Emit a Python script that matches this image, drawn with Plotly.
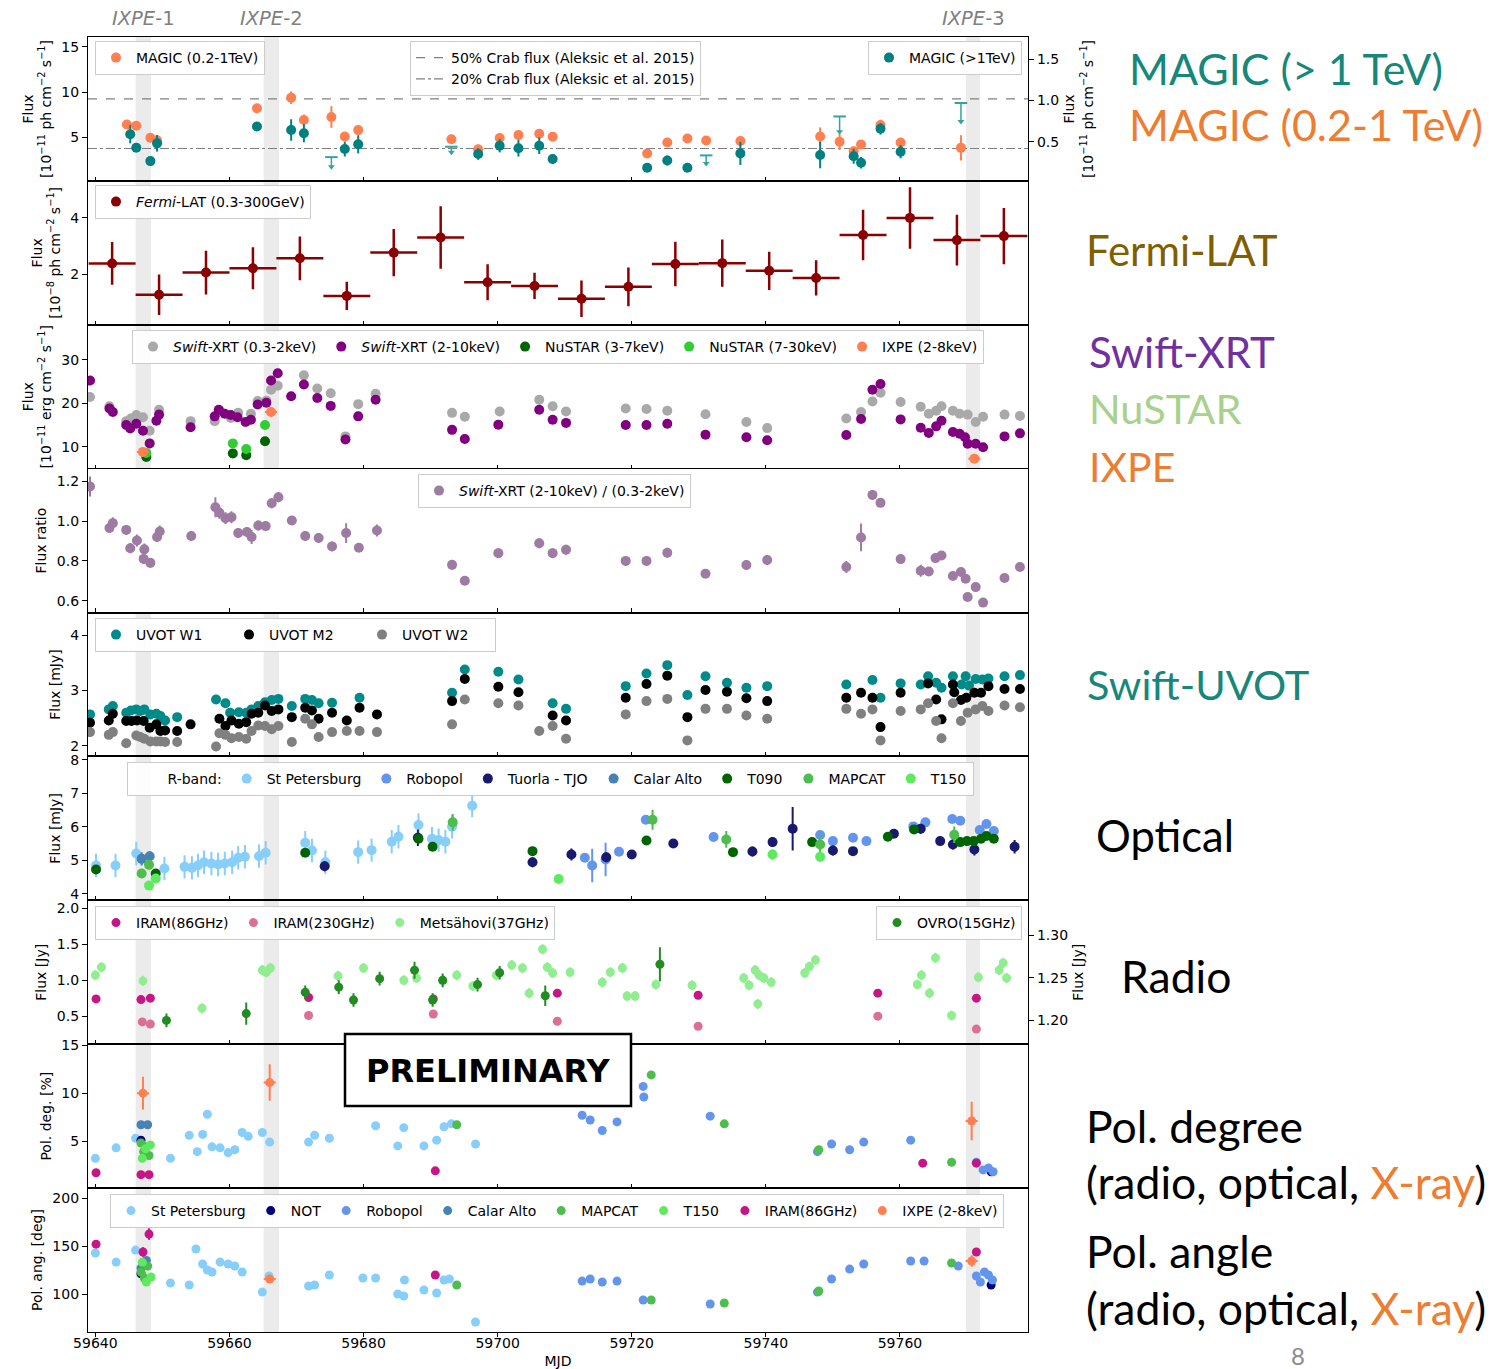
import plotly.graph_objects as go
from plotly.subplots import make_subplots

W, H = 1494, 1369
PL, PR, PT, PB = 88, 1028, 37, 1332
X_MIN, X_MAX = 59638.9, 59779.1
XTICKS = [59640, 59660, 59680, 59700, 59720, 59740, 59760]
XTICK_LABELS = ["59640", "59660", "59680", "59700", "59720", "59740", "59760"]

IXPE_WINDOWS = [(59646.0, 59648.3), (59665.1, 59667.4), (59769.85, 59771.95)]
IXPE_LABELS = ["<i>IXPE</i>-1", "<i>IXPE</i>-2", "<i>IXPE</i>-3"]

# ---------------- MAGIC ----------------
magic_lo_x = [59644.7, 59646.1, 59648.2, 59649.2, 59664.1, 59669.2, 59671.1, 59675.2, 59677.2, 59679.2,
              59693.1, 59697.1, 59700.3, 59703.1, 59706.2, 59708.2, 59722.3, 59725.3, 59728.3, 59731.1,
              59736.2, 59748.1, 59751.0, 59753.1, 59754.2, 59757.1, 59760.1, 59769.1]
magic_lo_y = [6.44, 6.3, 4.96, 4.7, 8.22, 9.4, 6.93, 7.26, 5.11, 5.81,
              4.81, 3.7, 4.93, 5.26, 5.4, 5.07, 3.22, 4.44, 4.89, 4.67,
              4.6, 5.11, 4.52, 3.48, 4.22, 6.37, 4.44, 3.85]
magic_lo_e = [0.5, 0.35, 0.35, 0.5, 0.4, 0.7, 0.6, 1.2, 0.4, 0.5,
              0.5, 0.4, 0.45, 0.5, 0.5, 0.45, 0.45, 0.4, 0.45, 0.4,
              0.5, 1.0, 0.9, 0.5, 0.5, 0.6, 0.5, 1.4]
magic_hi_x = [59645.2, 59646.1, 59648.2, 59649.2, 59664.1, 59669.2, 59671.1, 59677.2, 59679.2, 59697.1,
              59700.3, 59703.1, 59706.2, 59708.2, 59722.3, 59725.3, 59728.3, 59736.2, 59748.1, 59753.1,
              59754.2, 59757.1, 59760.1]
magic_hi_y = [0.589, 0.426, 0.264, 0.479, 0.683, 0.641, 0.601, 0.410, 0.467, 0.349,
              0.450, 0.419, 0.450, 0.289, 0.183, 0.272, 0.183, 0.357, 0.337, 0.322,
              0.244, 0.655, 0.378]
magic_hi_e = [0.11, 0.05, 0.03, 0.1, 0.05, 0.13, 0.11, 0.09, 0.11, 0.07,
              0.08, 0.1, 0.1, 0.06, 0.05, 0.06, 0.04, 0.14, 0.16, 0.09,
              0.07, 0.07, 0.08]
magic_ul_x = [59675.2, 59693.1, 59731.1, 59751.0, 59769.1]
magic_ul_top = [0.312, 0.438, 0.333, 0.805, 0.968]
magic_ul_end = [0.195, 0.37, 0.234, 0.619, 0.744]
crab50 = 9.27
crab20 = 3.78

# ---------------- Fermi ----------------
fermi_x = [59642.5, 59649.5, 59656.5, 59663.5, 59670.5, 59677.5, 59684.5, 59691.5, 59698.5, 59705.5,
           59712.5, 59719.5, 59726.5, 59733.5, 59740.5, 59747.5, 59754.5, 59761.5, 59768.5, 59775.5]
fermi_y = [2.39, 1.29, 2.07, 2.22, 2.57, 1.25, 2.77, 3.3, 1.73, 1.6,
           1.15, 1.57, 2.37, 2.4, 2.13, 1.88, 3.39, 3.99, 3.21, 3.35]
fermi_ye = [0.75, 0.71, 0.77, 0.74, 0.77, 0.5, 0.83, 1.1, 0.63, 0.46,
            0.64, 0.68, 0.78, 0.83, 0.67, 0.62, 0.89, 1.08, 0.89, 0.99]
fermi_half_bin = 3.5

# ---------------- X-ray ----------------
xrt_hard_x = [59639.2, 59642.1, 59642.6, 59644.6, 59645.2, 59646.1, 59647.1, 59648.1, 59649.1, 59649.5,
              59654.2, 59657.8, 59658.4, 59659.3, 59660.2, 59661.2, 59662.4, 59663.2, 59664.2, 59665.5,
              59666.2, 59667.2, 59669.2, 59671.1, 59673.1, 59675.1, 59677.3, 59679.2, 59681.8, 59693.2,
              59695.1, 59700.1, 59706.2, 59708.2, 59710.2, 59719.1, 59722.2, 59725.3, 59731.0, 59737.1,
              59740.2, 59752.0, 59754.2, 59755.9, 59757.1, 59760.1, 59763.1, 59764.3, 59765.4, 59766.2,
              59767.9, 59768.9, 59769.7, 59770.1, 59771.3, 59772.4, 59775.6, 59777.9]
xrt_hard_y = [25.2, 18.8, 18.0, 15.0, 14.2, 15.3, 13.7, 10.8, 16.0, 17.4,
              14.5, 17.0, 18.5, 17.6, 17.3, 16.8, 15.7, 16.2, 19.7, 20.1,
              25.2, 26.9, 21.6, 24.3, 21.2, 19.4, 11.7, 17.0, 20.8, 13.9,
              11.8, 15.1, 18.5, 16.2, 15.5, 15.0, 15.0, 15.3, 12.8, 12.2,
              11.5, 12.7, 16.4, 23.1, 24.4, 16.3, 14.4, 13.2, 14.7, 16.0,
              13.4, 13.0, 12.2, 10.7, 10.7, 9.9, 12.4, 13.1]
xrt_soft_x = [59639.2, 59642.1, 59644.6, 59645.3, 59646.1, 59647.1, 59648.1, 59649.5, 59654.2, 59657.8,
              59658.6, 59660.2, 59661.3, 59663.2, 59664.2, 59665.5, 59666.2, 59667.2, 59671.1, 59673.1,
              59675.1, 59677.3, 59679.2, 59681.8, 59693.2, 59695.1, 59700.3, 59706.2, 59708.2, 59710.2,
              59719.1, 59722.2, 59725.3, 59731.0, 59737.1, 59740.2, 59752.0, 59754.2, 59755.9, 59757.1,
              59760.1, 59763.1, 59764.3, 59765.4, 59766.2, 59767.9, 59768.9, 59770.1, 59771.3, 59772.4,
              59775.6, 59777.9]
xrt_soft_y = [21.45, 19.3, 15.9, 16.5, 17.3, 16.8, 13.7, 18.5, 15.9, 15.9,
              18.2, 16.6, 17.8, 17.6, 20.5, 20.6, 23.1, 24.0, 26.4, 23.4,
              22.3, 12.4, 19.8, 22.2, 17.8, 16.9, 18.1, 20.8, 19.3, 18.1,
              18.8, 18.7, 18.3, 17.5, 15.7, 14.3, 16.5, 18.0, 20.4, 22.4,
              20.3, 19.2, 17.6, 18.3, 19.3, 18.3, 17.6, 17.4, 15.7, 16.9,
              17.4, 17.1]
nustar_x = [59647.6, 59660.5, 59662.5, 59665.3]
nustar_lo_y = [7.7, 8.5, 8.1, 11.3]
nustar_hi_y = [8.6, 10.8, 9.5, 15.0]
ixpe_flux_x = [59647.1, 59666.2, 59771.1]
ixpe_flux_y = [8.85, 18.0, 7.3]
ixpe_flux_xe = [0.9, 0.9, 0.9]

# ---------------- hardness ratio ----------------
ratio_x = [59639.2, 59642.1, 59642.6, 59644.6, 59645.2, 59646.2, 59647.2, 59647.3, 59648.2, 59649.2,
           59649.6, 59654.3, 59657.9, 59658.5, 59659.4, 59660.3, 59661.3, 59662.6, 59663.3, 59664.3,
           59665.4, 59666.3, 59667.3, 59669.3, 59671.3, 59673.3, 59675.3, 59677.4, 59679.3, 59682.0,
           59693.2, 59695.1, 59700.1, 59706.2, 59708.2, 59710.2, 59719.1, 59722.2, 59725.3, 59731.0,
           59737.1, 59740.2, 59752.0, 59754.2, 59755.9, 59757.1, 59760.1, 59763.1, 59764.3, 59765.3,
           59766.2, 59767.9, 59769.1, 59769.8, 59770.1, 59771.3, 59772.4, 59775.6, 59777.9]
ratio_y = [1.174, 0.965, 0.99, 0.956, 0.864, 0.903, 0.81, 0.858, 0.79, 0.92,
           0.948, 0.925, 1.07, 1.042, 1.015, 1.02, 0.94, 0.945, 0.92, 0.978,
           0.975, 1.09, 1.12, 1.003, 0.925, 0.915, 0.873, 0.94, 0.866, 0.953,
           0.78, 0.70, 0.839, 0.889, 0.839, 0.856, 0.80, 0.80, 0.841, 0.735,
           0.779, 0.804, 0.769, 0.918, 1.132, 1.092, 0.809, 0.75, 0.747, 0.814,
           0.827, 0.724, 0.744, 0.71, 0.618, 0.668, 0.59, 0.714, 0.769]
ratio_e = [0.05, 0.025, 0.03, 0.025, 0.025, 0.03, 0.025, 0.03, 0.025, 0.025,
           0.03, 0.025, 0.05, 0.03, 0.03, 0.03, 0.025, 0.025, 0.035, 0.025,
           0.025, 0.025, 0.025, 0.02, 0.025, 0.025, 0.025, 0.05, 0.02, 0.03,
           0.025, 0.02, 0.025, 0.025, 0.025, 0.025, 0.025, 0.025, 0.025, 0.02,
           0.025, 0.025, 0.03, 0.07, 0.025, 0.02, 0.02, 0.03, 0.02, 0.02,
           0.02, 0.02, 0.02, 0.02, 0.02, 0.02, 0.02, 0.02, 0.02]

# ---------------- UVOT ----------------
w1_x = [59639.2, 59642.0, 59642.6, 59644.6, 59645.3, 59646.1, 59646.7, 59647.3, 59648.2, 59649.1,
        59649.7, 59650.4, 59652.2, 59658.0, 59659.4, 59660.1, 59661.4, 59662.5, 59663.3, 59664.3,
        59665.3, 59666.3, 59667.3, 59669.3, 59671.3, 59672.3, 59673.3, 59675.3, 59679.4, 59693.2,
        59695.1, 59700.1, 59703.1, 59708.2, 59710.2, 59719.1, 59722.2, 59725.3, 59728.3, 59731.0,
        59734.2, 59737.1, 59740.2, 59752.0, 59755.9, 59757.1, 59760.1, 59763.1, 59764.2, 59765.4,
        59766.2, 59767.9, 59769.2, 59769.8, 59770.3, 59771.3, 59772.3, 59773.2, 59775.6, 59777.9]
w1_y = [2.57, 2.66, 2.72, 2.6, 2.64, 2.66, 2.63, 2.66, 2.57, 2.58,
        2.54, 2.46, 2.52, 2.84, 2.77, 2.6, 2.61, 2.6, 2.66, 2.72,
        2.79, 2.83, 2.85, 2.72, 2.85, 2.83, 2.77, 2.78, 2.87, 2.96,
        3.38, 3.34, 3.2, 2.77, 2.67, 3.08, 3.31, 3.46, 2.92, 3.26,
        3.14, 3.05, 3.08, 3.11, 3.19, 2.87, 3.13, 3.11, 3.26, 3.14,
        3.05, 3.26, 3.11, 3.26, 3.09, 3.21, 3.2, 3.22, 3.26, 3.28]
m2_x = [59639.2, 59642.0, 59642.6, 59644.6, 59645.4, 59646.2, 59647.2, 59648.1, 59649.1, 59649.7,
        59650.4, 59652.2, 59654.2, 59658.5, 59659.4, 59660.3, 59661.4, 59662.5, 59663.3, 59664.3,
        59665.3, 59666.3, 59667.3, 59669.3, 59671.3, 59672.3, 59673.3, 59675.3, 59677.5, 59679.4,
        59682.0, 59693.2, 59695.1, 59700.1, 59703.1, 59708.2, 59710.2, 59719.1, 59722.2, 59725.3,
        59728.3, 59731.0, 59734.2, 59737.1, 59740.2, 59752.0, 59754.2, 59755.9, 59757.1, 59760.1,
        59764.2, 59765.4, 59766.2, 59767.9, 59768.1, 59769.1, 59769.9, 59771.1, 59772.1, 59773.2,
        59775.6, 59777.9]
m2_y = [2.42, 2.46, 2.58, 2.45, 2.45, 2.46, 2.45, 2.33, 2.39, 2.27,
        2.28, 2.27, 2.39, 2.49, 2.36, 2.46, 2.4, 2.43, 2.58, 2.6,
        2.73, 2.63, 2.66, 2.52, 2.69, 2.64, 2.49, 2.6, 2.46, 2.69,
        2.57, 2.81, 3.21, 3.07, 2.97, 2.55, 2.46, 2.87, 3.12, 3.27,
        2.52, 3.01, 2.98, 2.86, 2.81, 2.87, 2.96, 2.87, 2.34, 2.96,
        3.13, 2.84, 2.48, 3.11, 2.97, 2.83, 2.87, 2.96, 2.96, 3.08,
        3.03, 3.03]
w2_x = [59639.2, 59642.0, 59642.6, 59644.6, 59646.1, 59646.7, 59647.3, 59648.2, 59649.1, 59649.7,
        59650.4, 59652.2, 59658.0, 59658.5, 59659.4, 59660.3, 59661.4, 59662.5, 59663.3, 59664.3,
        59665.3, 59666.3, 59667.3, 59669.3, 59671.3, 59672.3, 59673.3, 59675.3, 59677.5, 59679.4,
        59682.0, 59693.2, 59695.1, 59700.1, 59703.1, 59706.2, 59708.2, 59710.2, 59719.1, 59722.2,
        59725.3, 59728.3, 59731.0, 59734.2, 59737.1, 59740.2, 59752.0, 59754.2, 59755.9, 59757.1,
        59760.1, 59763.1, 59764.2, 59765.4, 59766.2, 59767.9, 59769.1, 59770.1, 59771.3, 59772.3,
        59773.2, 59775.6, 59777.9]
w2_y = [2.25, 2.2, 2.25, 2.05, 2.19, 2.16, 2.13, 2.08, 2.08, 2.08,
        2.07, 2.07, 1.99, 2.23, 2.2, 2.14, 2.16, 2.13, 2.27, 2.37,
        2.36, 2.3, 2.36, 2.07, 2.49, 2.39, 2.16, 2.25, 2.27, 2.27,
        2.25, 2.39, 2.84, 2.77, 2.73, 2.27, 2.36, 2.13, 2.57, 2.81,
        2.85, 2.1, 2.67, 2.67, 2.55, 2.49, 2.67, 2.58, 2.66, 2.1,
        2.63, 2.66, 2.77, 2.45, 2.14, 2.77, 2.45, 2.6, 2.66, 2.72,
        2.63, 2.73, 2.7]

# ---------------- Optical R-band ----------------
stp_x = [59640.1, 59643.0, 59646.1, 59650.3, 59653.3, 59654.4, 59655.3, 59656.2, 59657.3, 59658.3,
         59659.3, 59660.4, 59661.3, 59662.3, 59664.4, 59665.4, 59671.3, 59672.3, 59674.3, 59679.2,
         59681.2, 59684.2, 59685.2, 59688.2, 59690.2, 59691.2, 59692.2, 59693.2, 59696.2]
stp_y = [4.84, 4.84, 5.2, 4.75, 4.8, 4.77, 4.84, 4.94, 4.9, 4.87,
         4.9, 4.94, 5.07, 5.1, 5.12, 5.22, 5.52, 5.29, 4.94, 5.24,
         5.3, 5.55, 5.7, 6.05, 5.64, 5.6, 5.55, 6.0, 6.63]
robo_x = [59713.0, 59714.1, 59716.1, 59718.1, 59722.1, 59732.2, 59748.1, 59750.0, 59753.0, 59755.0,
          59762.0, 59763.8, 59767.8, 59769.0, 59771.9, 59772.9, 59774.0]
robo_y = [5.07, 4.84, 5.02, 5.25, 6.21, 5.69, 5.75, 5.57, 5.67, 5.57,
          6.01, 6.13, 6.23, 6.18, 5.9, 6.08, 5.87]
robo_e = [0.12, 0.5, 0.5, 0.12, 0.1, 0.1, 0.12, 0.1, 0.12, 0.12,
          0.1, 0.1, 0.1, 0.1, 0.1, 0.1, 0.1]
tuorla_x = [59674.2, 59688.1, 59705.2, 59711.0, 59716.2, 59720.0, 59726.2, 59738.0, 59741.0, 59744.0,
            59750.0, 59753.0, 59759.1, 59763.1, 59766.0, 59767.9, 59771.1, 59777.1]
tuorla_y = [4.82, 5.67, 4.94, 5.17, 5.09, 5.17, 5.5, 5.26, 5.54, 5.94,
            5.29, 5.27, 5.79, 5.94, 5.57, 5.47, 5.32, 5.4]
tuorla_e = [0.15, 0.25, 0.15, 0.18, 0.15, 0.12, 0.12, 0.15, 0.15, 0.65,
            0.15, 0.12, 0.12, 0.15, 0.12, 0.15, 0.18, 0.2]
calar_x = [59646.9, 59648.1]
calar_y = [5.04, 5.12]
calar_e = [0.2, 0.15]
t090_x = [59640.1, 59649.0, 59671.3, 59688.2, 59690.3, 59705.2, 59722.2, 59735.1, 59746.9, 59758.2,
          59762.1, 59769.0, 59770.0, 59771.0, 59772.1, 59772.9, 59774.0]
t090_y = [4.72, 4.6, 5.22, 5.64, 5.4, 5.27, 5.59, 5.24, 5.54, 5.7,
          5.92, 5.54, 5.57, 5.57, 5.64, 5.72, 5.64]
mapcat_x = [59646.9, 59648.0, 59693.3, 59723.1, 59734.1, 59748.1, 59768.1]
mapcat_y = [4.6, 4.86, 6.13, 6.21, 5.62, 5.47, 5.76]
mapcat_e = [0.08, 0.1, 0.25, 0.3, 0.25, 0.25, 0.25]
t150_x = [59648.0, 59649.0, 59709.1, 59741.0, 59748.1]
t150_y = [4.24, 4.45, 4.44, 5.17, 5.1]
t150_e = [0.08, 0.08, 0.05, 0.15, 0.15]

# ---------------- Radio ----------------
iram86_x = [59640.1, 59646.8, 59648.2, 59671.8, 59690.4, 59708.9, 59729.9, 59756.7, 59771.4]
iram86_y = [0.74, 0.73, 0.75, 0.76, 0.74, 0.82, 0.79, 0.82, 0.75]
iram230_x = [59647.0, 59648.2, 59671.8, 59690.4, 59708.9, 59729.9, 59756.7, 59771.4]
iram230_y = [0.42, 0.39, 0.51, 0.53, 0.43, 0.36, 0.50, 0.32]
mets_x = [59640.0, 59640.9, 59647.1, 59655.9, 59664.9, 59665.5, 59666.1, 59676.2, 59680.0, 59686.0,
          59687.9, 59691.8, 59693.9, 59696.3, 59699.8, 59702.1, 59703.7, 59704.7, 59706.7, 59707.4,
          59708.2, 59710.8, 59715.6, 59716.8, 59718.6, 59719.3, 59720.5, 59723.6, 59729.0, 59736.7,
          59737.5, 59738.4, 59738.8, 59739.0, 59739.7, 59740.8, 59745.8, 59746.5, 59747.4, 59762.6,
          59763.2, 59764.4, 59765.3, 59767.7, 59771.7, 59774.8, 59775.4, 59775.9]
mets_y = [1.07, 1.18, 0.99, 0.61, 1.14, 1.11, 1.17, 1.06, 1.17, 1.0,
          1.03, 1.0, 1.07, 0.92, 1.07, 1.21, 1.17, 0.82, 1.43, 1.18,
          1.1, 1.11, 0.97, 1.11, 1.17, 0.78, 0.78, 0.94, 0.93, 1.03,
          0.93, 1.14, 0.67, 1.07, 1.03, 0.97, 1.1, 1.19, 1.28, 0.94,
          1.07, 0.82, 1.31, 0.51, 1.04, 1.14, 1.24, 1.03]
ovro_x = [59650.6, 59662.5, 59671.3, 59676.3, 59678.5, 59682.4, 59687.6, 59690.3, 59691.8, 59697.0,
          59700.3, 59707.1, 59724.2]
ovro_y = [1.200, 1.208, 1.233, 1.239, 1.224, 1.249, 1.259, 1.224, 1.247, 1.242,
          1.256, 1.229, 1.266]
ovro_e = [0.008, 0.013, 0.008, 0.008, 0.008, 0.008, 0.01, 0.008, 0.008, 0.008,
          0.008, 0.012, 0.02]

# ---------------- Polarization degree ----------------
pd_stp_x = [59640.0, 59643.1, 59646.0, 59651.2, 59654.0, 59655.2, 59656.0, 59656.7, 59657.4, 59658.6,
            59659.8, 59660.8, 59661.9, 59662.8, 59664.9, 59666.0, 59671.8, 59672.7, 59674.9, 59681.8,
            59685.1, 59686.0, 59689.0, 59690.9, 59692.0, 59693.1, 59696.7]
pd_stp_y = [3.2, 4.3, 5.3, 3.2, 5.6, 3.9, 5.7, 7.8, 4.4, 4.3,
            3.8, 4.1, 5.9, 5.5, 5.9, 4.9, 4.9, 5.6, 5.3, 6.6,
            4.5, 6.4, 4.5, 5.1, 6.5, 6.8, 4.7]
pd_not_x = [59646.8, 59773.6]
pd_not_y = [5.1, 1.8]
pd_robo_x = [59712.6, 59713.8, 59715.6, 59717.8, 59721.7, 59721.8, 59731.7, 59747.7, 59749.8, 59752.5,
             59754.6, 59761.6, 59771.4, 59772.4, 59773.2, 59773.9]
pd_robo_y = [7.7, 7.2, 6.1, 7.0, 10.7, 9.6, 7.6, 3.9, 4.7, 4.1,
             4.9, 5.1, 2.8, 2.0, 2.2, 1.8]
pd_calar_x = [59646.8, 59647.8]
pd_calar_y = [6.7, 6.7]
pd_mapcat_x = [59646.8, 59647.2, 59647.6, 59648.0, 59693.9, 59722.9, 59733.8, 59747.9, 59767.7]
pd_mapcat_y = [4.8, 3.9, 4.4, 3.5, 6.7, 11.9, 6.8, 4.1, 2.8]
pd_t150_x = [59647.0, 59647.5, 59648.2]
pd_t150_y = [3.2, 4.2, 4.6]
pd_iram_x = [59640.1, 59646.8, 59648.0, 59690.7, 59763.4, 59771.4]
pd_iram_y = [1.7, 1.5, 1.5, 1.9, 2.7, 2.7]
pd_ixpe_x = [59647.1, 59666.0, 59770.7]
pd_ixpe_y = [10.0, 11.1, 7.1]
pd_ixpe_e = [1.7, 1.9, 2.0]
pd_ixpe_xe = [0.9, 0.9, 0.9]

# ---------------- Polarization angle ----------------
pa_stp_x = [59640.0, 59643.1, 59646.0, 59651.2, 59654.0, 59655.0, 59656.0, 59656.7, 59657.4, 59658.6,
            59659.8, 59660.8, 59661.9, 59664.9, 59665.9, 59671.8, 59672.7, 59674.9, 59679.9, 59681.8,
            59685.1, 59686.0, 59686.1, 59689.0, 59690.9, 59692.0, 59692.8, 59696.7]
pa_stp_y = [142.7, 133.3, 145.8, 111.5, 109.4, 146.9, 131.3, 125.0, 122.9, 133.3,
            131.3, 129.2, 122.9, 102.0, 118.8, 108.3, 109.4, 119.8, 116.7, 116.7,
            100.0, 97.9, 114.6, 104.2, 101.0, 114.6, 115.6, 70.8]
pa_not_x = [59646.8, 59773.6]
pa_not_y = [121.0, 109.4]
pa_robo_x = [59712.6, 59713.8, 59715.6, 59717.8, 59721.7, 59731.7, 59747.7, 59749.8, 59752.5, 59754.6,
             59761.6, 59763.6, 59768.7, 59771.4, 59772.0, 59772.6, 59773.2, 59773.8]
pa_robo_y = [113.5, 115.6, 112.5, 113.5, 93.8, 89.6, 102.0, 115.6, 126.0, 131.3,
             134.4, 134.4, 129.2, 118.8, 112.5, 122.9, 119.8, 114.6]
pa_calar_x = [59646.8, 59647.6]
pa_calar_y = [127.0, 135.0]
pa_mapcat_x = [59646.8, 59647.3, 59647.8, 59693.9, 59722.9, 59733.8, 59747.9, 59767.7]
pa_mapcat_y = [122.9, 116.7, 129.2, 109.4, 93.8, 90.6, 103.1, 132.3]
pa_t150_x = [59647.0, 59647.6, 59648.3]
pa_t150_y = [133.0, 112.5, 117.7]
pa_iram_x = [59640.1, 59647.1, 59648.0, 59690.7, 59771.4]
pa_iram_y = [152.0, 143.8, 162.5, 119.8, 143.8]
pa_iram_e = [3, 5, 6, 4, 3]
pa_ixpe_x = [59666.0, 59770.7]
pa_ixpe_y = [115.6, 134.4]
pa_ixpe_e = [2, 6]
pa_ixpe_xe = [0.9, 0.9]

# ---------------- colours ----------------
C_CORAL = "#FF7F50"
C_TEAL = "#008080"
C_UL = "#35A3A3"
C_FERMI = "#8B0000"
C_SOFT = "#A9A9A9"
C_HARD = "#800080"
C_NU_LO = "#006400"
C_NU_HI = "#32CD32"
C_RATIO = "#9E7BA2"
C_W1 = "#008B8B"
C_M2 = "#000000"
C_W2 = "#808080"
C_STP = "#87CEFA"
C_ROBO = "#6495ED"
C_TUORLA = "#191970"
C_CALAR = "#4682B4"
C_T090 = "#006400"
C_MAPCAT = "#4DBD4D"
C_T150 = "#5EEA5E"
C_IRAM86 = "#C71585"
C_IRAM230 = "#DB7093"
C_METS = "#90EE90"
C_OVRO = "#228B22"
C_NOT = "#000080"

fig = make_subplots(rows=9, cols=1, shared_xaxes=True, vertical_spacing=0,
                    specs=[[{"secondary_y": True}], [{}], [{}], [{}], [{}], [{}],
                           [{"secondary_y": True}], [{}], [{}]])


def pts(row, x, y, color, name=None, legend="legend", err=None, errc=None, xerr=None,
        secondary=False, size=10, ew=2.0):
    ey = None
    if err is not None:
        ey = dict(type="data", array=err, visible=True, color=color, thickness=ew, width=0)
    elif errc is not None:
        ey = dict(type="constant", value=errc, visible=True, color=color, thickness=ew, width=0)
    ex = None
    if xerr is not None:
        ex = dict(type="data", array=xerr, visible=True, color=color, thickness=ew, width=0)
    fig.add_trace(go.Scatter(x=x, y=y, mode="markers", name=name if name else "",
                             showlegend=name is not None, legend=legend,
                             marker=dict(color=color, size=size, line=dict(width=0)),
                             error_y=ey, error_x=ex),
                  row=row, col=1, secondary_y=secondary)


# Row 1 MAGIC
fig.add_trace(go.Scatter(x=[X_MIN, X_MAX], y=[crab50, crab50], mode="lines",
                         line=dict(color="#808080", width=1.2, dash="dash"),
                         name="50% Crab flux (Aleksic et al. 2015)", legend="legend2"), row=1, col=1)
fig.add_trace(go.Scatter(x=[X_MIN, X_MAX], y=[crab20, crab20], mode="lines",
                         line=dict(color="#808080", width=1.2, dash="dashdot"),
                         name="20% Crab flux (Aleksic et al. 2015)", legend="legend2"), row=1, col=1)
pts(1, magic_lo_x, magic_lo_y, C_CORAL, "MAGIC (0.2-1TeV)", "legend", err=magic_lo_e)
pts(1, magic_hi_x, magic_hi_y, C_TEAL, "MAGIC (>1TeV)", "legend3", err=magic_hi_e, secondary=True)
fig.add_trace(go.Scatter(
    x=magic_ul_x, y=magic_ul_top, mode="markers", showlegend=False,
    marker=dict(symbol="line-ew", size=9, color=C_UL, line=dict(color=C_UL, width=2)),
    error_y=dict(type="data", symmetric=False, array=[0] * len(magic_ul_x),
                 arrayminus=[t - b for t, b in zip(magic_ul_top, magic_ul_end)],
                 color=C_UL, thickness=1.5, width=0)), row=1, col=1, secondary_y=True)
fig.add_trace(go.Scatter(x=magic_ul_x, y=magic_ul_end, mode="markers", showlegend=False,
                         marker=dict(symbol="triangle-down", size=6, color=C_UL)),
              row=1, col=1, secondary_y=True)

# Row 2 Fermi
pts(2, fermi_x, fermi_y, C_FERMI, "<i>Fermi</i>-LAT (0.3-300GeV)", "legend4", err=fermi_ye,
    xerr=[fermi_half_bin] * len(fermi_x), ew=2.5, size=10)

# Row 3 X-ray
pts(3, xrt_soft_x, xrt_soft_y, C_SOFT, "<i>Swift</i>-XRT (0.3-2keV)", "legend5", errc=0.3)
pts(3, xrt_hard_x, xrt_hard_y, C_HARD, "<i>Swift</i>-XRT (2-10keV)", "legend5", errc=0.3)
pts(3, nustar_x, nustar_lo_y, C_NU_LO, "NuSTAR (3-7keV)", "legend5", errc=0.2)
pts(3, nustar_x, nustar_hi_y, C_NU_HI, "NuSTAR (7-30keV)", "legend5", errc=0.3)
pts(3, ixpe_flux_x, ixpe_flux_y, C_CORAL, "IXPE (2-8keV)", "legend5", errc=0.3, xerr=ixpe_flux_xe)

# Row 4 ratio
pts(4, ratio_x, ratio_y, C_RATIO, "<i>Swift</i>-XRT (2-10keV) / (0.3-2keV)", "legend6", err=ratio_e)

# Row 5 UVOT
pts(5, w1_x, w1_y, C_W1, "UVOT W1", "legend7", errc=0.04)
pts(5, m2_x, m2_y, C_M2, "UVOT M2", "legend7", errc=0.05)
pts(5, w2_x, w2_y, C_W2, "UVOT W2", "legend7", errc=0.03)

# Row 6 optical
fig.add_trace(go.Scatter(x=[None], y=[None], mode="markers", name="R-band:", legend="legend8",
                         marker=dict(color="rgba(0,0,0,0)", size=10)), row=6, col=1)
pts(6, stp_x, stp_y, C_STP, "St Petersburg", "legend8", errc=0.35)
pts(6, robo_x, robo_y, C_ROBO, "Robopol", "legend8", err=robo_e)
pts(6, tuorla_x, tuorla_y, C_TUORLA, "Tuorla - TJO", "legend8", err=tuorla_e)
pts(6, calar_x, calar_y, C_CALAR, "Calar Alto", "legend8", err=calar_e)
pts(6, t090_x, t090_y, C_T090, "T090", "legend8", errc=0.08)
pts(6, mapcat_x, mapcat_y, C_MAPCAT, "MAPCAT", "legend8", err=mapcat_e)
pts(6, t150_x, t150_y, C_T150, "T150", "legend8", err=t150_e)

# Row 7 radio
pts(7, iram86_x, iram86_y, C_IRAM86, "IRAM(86GHz)", "legend9", errc=0.02, size=9)
pts(7, iram230_x, iram230_y, C_IRAM230, "IRAM(230GHz)", "legend9", errc=0.02, size=9)
pts(7, mets_x, mets_y, C_METS, "Metsähovi(37GHz)", "legend9", errc=0.07, size=9)
pts(7, ovro_x, ovro_y, C_OVRO, "OVRO(15GHz)", "legend10", err=ovro_e, secondary=True, size=9)

# Row 8 polarization degree
pts(8, pd_stp_x, pd_stp_y, C_STP, errc=0.3, size=9)
pts(8, pd_not_x, pd_not_y, C_NOT, errc=0.3, size=9)
pts(8, pd_robo_x, pd_robo_y, C_ROBO, errc=0.3, size=9)
pts(8, pd_calar_x, pd_calar_y, C_CALAR, errc=0.3, size=9)
pts(8, pd_mapcat_x, pd_mapcat_y, C_MAPCAT, errc=0.4, size=9)
pts(8, pd_t150_x, pd_t150_y, C_T150, errc=0.4, size=9)
pts(8, pd_iram_x, pd_iram_y, C_IRAM86, errc=0.2, size=9)
pts(8, pd_ixpe_x, pd_ixpe_y, C_CORAL, err=pd_ixpe_e, xerr=pd_ixpe_xe, size=9)

# Row 9 polarization angle
pts(9, pa_stp_x, pa_stp_y, C_STP, "St Petersburg", "legend11", errc=2, size=9)
pts(9, pa_not_x, pa_not_y, C_NOT, "NOT", "legend11", errc=2, size=9)
pts(9, pa_robo_x, pa_robo_y, C_ROBO, "Robopol", "legend11", errc=1.5, size=9)
pts(9, pa_calar_x, pa_calar_y, C_CALAR, "Calar Alto", "legend11", errc=2, size=9)
pts(9, pa_mapcat_x, pa_mapcat_y, C_MAPCAT, "MAPCAT", "legend11", errc=2, size=9)
pts(9, pa_t150_x, pa_t150_y, C_T150, "T150", "legend11", errc=2, size=9)
pts(9, pa_iram_x, pa_iram_y, C_IRAM86, "IRAM(86GHz)", "legend11", err=pa_iram_e, size=9)
pts(9, pa_ixpe_x, pa_ixpe_y, C_CORAL, "IXPE (2-8keV)", "legend11", err=pa_ixpe_e, xerr=pa_ixpe_xe, size=9)

# ---------------- axes ----------------
TF = 14
AX = dict(showline=True, linecolor="black", linewidth=1.2, mirror=True, showgrid=False,
          zeroline=False, tickcolor="black", automargin=False,
          tickfont=dict(size=TF, color="black"))
fig.update_xaxes(domain=[0, 1], range=[X_MIN, X_MAX], tickvals=XTICKS, ticks="inside", ticklen=4, **AX)
fig.update_xaxes(row=9, col=1, ticks="outside", ticklen=4, ticktext=XTICK_LABELS,
                 showticklabels=True, ticklabelstandoff=-6,
                 title=dict(text="MJD", font=dict(size=TF), standoff=6))
fig.update_yaxes(ticks="outside", ticklen=5, **AX)

SUP = lambda s: "<sup>" + s + "</sup>"
FLUX_PH11 = "Flux<br>[10" + SUP("−11") + " ph cm" + SUP("−2") + " s" + SUP("−1") + "]"
yconf = [
    (1, False, [0.2, 16.1], [5, 10, 15], None, FLUX_PH11),
    (1, True, [0.024, 1.768], [0.5, 1.0, 1.5], ".1f", FLUX_PH11),
    (2, False, [0.235, 5.29], [2, 4], None, "Flux<br>[10" + SUP("−8") + " ph cm" + SUP("−2") + " s" + SUP("−1") + "]"),
    (3, False, [5.0, 38.0], [10, 20, 30], None, "Flux<br>[10" + SUP("−11") + " erg cm" + SUP("−2") + " s" + SUP("−1") + "]"),
    (4, False, [0.54, 1.264], [0.6, 0.8, 1.0, 1.2], ".1f", "Flux ratio"),
    (5, False, [1.81, 4.41], [2, 3, 4], None, "Flux [mJy]"),
    (6, False, [3.8, 8.1], [4, 5, 6, 7, 8], None, "Flux [mJy]"),
    (7, False, [0.11, 2.11], [0.5, 1.0, 1.5, 2.0], ".1f", "Flux [Jy]"),
    (7, True, [1.172, 1.341], [1.20, 1.25, 1.30], ".2f", "Flux [Jy]"),
    (8, False, [0.1, 15.1], [5, 10, 15], None, "Pol. deg. [%]"),
    (9, False, [60.4, 210.4], [100, 150, 200], None, "Pol. ang. [deg]"),
]
for row, sec, rng, tv, fmt, title in yconf:
    kw = dict(range=rng, tickvals=tv, title=dict(text=title, font=dict(size=TF), standoff=6))
    if fmt:
        kw["tickformat"] = fmt
    fig.update_yaxes(row=row, col=1, secondary_y=sec, **kw)


def legend_box(x, y, xanchor="left", orientation="v", entrywidth=None):
    d = dict(x=x, y=y, xanchor=xanchor, yanchor="top", xref="paper", yref="paper",
             orientation=orientation, bgcolor="rgba(255,255,255,0.9)", bordercolor="#CCCCCC",
             borderwidth=1, font=dict(size=14, color="black"), tracegroupgap=0,
             itemwidth=30, traceorder="normal")
    if entrywidth:
        d["entrywidth"] = entrywidth
        d["entrywidthmode"] = "pixels"
    return d


PW, PH = PR - PL, PB - PT
px = lambda v: (v - PL) / PW
py = lambda v: 1 - (v - PT) / PH

fig.update_layout(
    width=W, height=H, plot_bgcolor="white", paper_bgcolor="white",
    margin=dict(l=PL, r=W - PR, t=PT, b=H - PB, autoexpand=False),
    font=dict(family="DejaVu Sans", size=TF, color="black"),
    legend=legend_box(px(95), py(41)),
    legend2=legend_box(px(410), py(41)),
    legend3=legend_box(px(1022), py(41), xanchor="right"),
    legend4=legend_box(px(95), py(185)),
    legend5=legend_box(px(558), py(330), xanchor="center", orientation="h"),
    legend6=legend_box(px(418), py(474)),
    legend7=legend_box(px(95), py(618), orientation="h", entrywidth=88),
    legend8=legend_box(px(550), py(762), xanchor="center", orientation="h"),
    legend9=legend_box(px(95), py(906), orientation="h"),
    legend10=legend_box(px(1022), py(906), xanchor="right"),
    legend11=legend_box(px(557), py(1194), xanchor="center", orientation="h"),
)

# IXPE windows
shapes = []
for (a, b) in IXPE_WINDOWS:
    shapes.append(dict(type="rect", xref="x", yref="paper", x0=a, x1=b, y0=0, y1=1,
                       fillcolor="#EBEBEB", line=dict(width=0), layer="below"))
shapes.append(dict(type="rect", xref="paper", yref="paper", x0=px(345), x1=px(631),
                   y0=py(1106), y1=py(1034), fillcolor="white",
                   line=dict(color="black", width=2.5), layer="above"))
fig.update_layout(shapes=shapes)

ann = []
for (a, b), lab in zip(IXPE_WINDOWS, IXPE_LABELS):
    ann.append(dict(x=(a + b) / 2, y=py(19), xref="x", yref="paper", text=lab, showarrow=False,
                    font=dict(size=19.5, color="#808080", family="DejaVu Sans"),
                    xanchor="center", yanchor="middle"))
ann.append(dict(x=px(488), y=py(1071), xref="paper", yref="paper", text="<b>PRELIMINARY</b>",
                showarrow=False, font=dict(size=32, color="black", family="DejaVu Sans"),
                xanchor="center", yanchor="middle"))

XRAY = "<span style='color:#ED7D31'>X-ray</span>"
side = [
    ("MAGIC (> 1 TeV)", 1127, 68, "#16877A", 43),
    ("MAGIC (0.2-1 TeV)", 1127, 124, "#ED7D31", 43),
    ("Fermi-LAT", 1084, 250, "#7F6000", 42),
    ("Swift-XRT", 1087, 352, "#7030A0", 42),
    ("NuSTAR", 1087, 408, "#A9D18E", 41.5),
    ("IXPE", 1087, 466, "#ED7D31", 41),
    ("Swift-UVOT", 1085, 684, "#16877A", 41.5),
    ("Optical", 1094, 835, "#000000", 43.5),
    ("Radio", 1119, 975, "#000000", 44.5),
    ("Pol. degree", 1084, 1125, "#000000", 44.5),
    ("(radio, optical, " + XRAY + ")", 1084, 1181, "#000000", 44.5),
    ("Pol. angle", 1084, 1250, "#000000", 44.5),
    ("(radio, optical, " + XRAY + ")", 1084, 1307, "#000000", 44.5),
]
for text, x0, y0, col, fs in side:
    ann.append(dict(x=px(x0), y=py(y0), xref="paper", yref="paper", text=text, showarrow=False,
                    xanchor="left", yanchor="middle",
                    font=dict(size=fs, color=col, family="Lato")))
ann.append(dict(x=px(1298), y=py(1355), xref="paper", yref="paper", text="8", showarrow=False,
                xanchor="center", yanchor="middle", font=dict(size=24, color="#8C8C8C", family="Lato")))
fig.update_layout(annotations=ann)

fig.write_html("out.html")
